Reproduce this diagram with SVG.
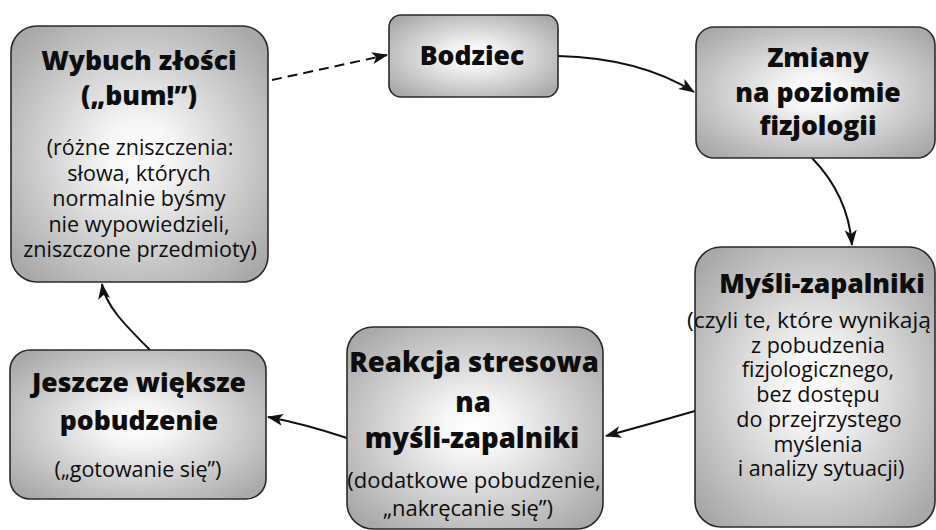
<svg xmlns="http://www.w3.org/2000/svg" width="936" height="530" viewBox="0 0 936 530">
<defs>
<radialGradient id="g" cx="50%" cy="50%" r="64%">
<stop offset="0" stop-color="#ffffff"/>
<stop offset="0.2" stop-color="#f6f6f6"/>
<stop offset="1" stop-color="#a8a8a8"/>
</radialGradient>
<marker id="ah" markerWidth="16" markerHeight="12" viewBox="0 0 16 12" refX="15" refY="6" orient="auto" markerUnits="userSpaceOnUse">
<path d="M0,0 L16,6 L0,12 L4,6 Z" fill="#111"/>
</marker>
<style>
.box{fill:url(#g);stroke:#2a2a2a;stroke-width:1.6}
.t{font-family:"Open Sans","Noto Sans",sans-serif;fill:#0d0d0d;text-anchor:middle}
.b{font-weight:800;font-size:26.5px}
.r{font-weight:500;font-size:21.5px}
.c{fill:none;stroke:#111;stroke-width:2}
</style>
</defs>
<g id="connectors">
<path class="c" d="M272,80 L387,55" stroke-dasharray="10,6" marker-end="url(#ah)"/>
<path class="c" d="M558,56 Q640,58 694,92" marker-end="url(#ah)"/>
<path class="c" d="M812,158 Q848,195 852,245" marker-end="url(#ah)"/>
<path class="c" d="M695,411 Q650,424 606,436" marker-end="url(#ah)"/>
<path class="c" d="M347,438 Q305,424 268,417" marker-end="url(#ah)"/>
<path class="c" d="M150,350 C125,325 105,305 102,284" marker-end="url(#ah)"/>
</g>
<g id="n1">
<rect class="box" x="11" y="26" width="257" height="256" rx="26"/>
<text class="t b" x="139" y="70">Wybuch złości</text>
<text class="t b" x="139" y="105">(„bum!”)</text>
<text class="t r" x="140" y="155">(różne zniszczenia:</text>
<text class="t r" x="139" y="180.5">słowa, których</text>
<text class="t r" x="139" y="206">normalnie byśmy</text>
<text class="t r" x="139" y="231.5">nie wypowiedzieli,</text>
<text class="t r" x="140" y="257">zniszczone przedmioty)</text>
</g>
<g id="n2">
<rect class="box" x="389" y="15" width="169" height="82" rx="12"/>
<text class="t b" x="472" y="65">Bodziec</text>
</g>
<g id="n3">
<rect class="box" x="696" y="27" width="239" height="131" rx="18"/>
<text class="t b" x="818" y="67">Zmiany</text>
<text class="t b" x="818" y="102">na poziomie</text>
<text class="t b" x="818" y="135">fizjologii</text>
</g>
<g id="n4">
<rect class="box" x="695" y="247" width="240" height="280" rx="26"/>
<text class="t b" x="822" y="293">Myśli-zapalniki</text>
<text class="t r" x="809" y="328" textLength="244" lengthAdjust="spacingAndGlyphs">(czyli te, które wynikają</text>
<text class="t r" x="818" y="352.7">z pobudzenia</text>
<text class="t r" x="818" y="377.4">fizjologicznego,</text>
<text class="t r" x="818" y="402">bez dostępu</text>
<text class="t r" x="819" y="426.8">do przejrzystego</text>
<text class="t r" x="818" y="451.5">myślenia</text>
<text class="t r" x="821" y="476">i analizy sytuacji)</text>
</g>
<g id="n5">
<rect class="box" x="347" y="327" width="256" height="202" rx="26"/>
<text class="t b" x="474" y="372" style="font-size:27.5px">Reakcja stresowa</text>
<text class="t b" x="473" y="412" style="font-size:27.5px">na</text>
<text class="t b" x="472" y="448" style="font-size:27.5px">myśli-zapalniki</text>
<text class="t r" x="474" y="488" style="font-size:22px">(dodatkowe pobudzenie,</text>
<text class="t r" x="468" y="516" style="font-size:22px">„nakręcanie się”)</text>
</g>
<g id="n6">
<rect class="box" x="10" y="350" width="256" height="149" rx="20"/>
<text class="t b" x="139" y="392">Jeszcze większe</text>
<text class="t b" x="139" y="430">pobudzenie</text>
<text class="t r" x="138" y="477">(„gotowanie się”)</text>
</g>
</svg>
